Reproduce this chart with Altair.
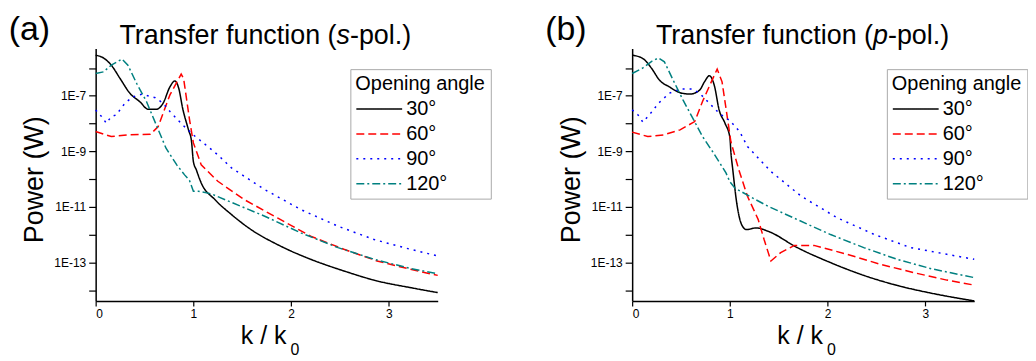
import altair as alt
import pandas as pd

FONT = "Liberation Sans"
ANGLES = ["30°", "60°", "90°", "120°"]
COLORS = ["#000000", "#ff0000", "#0000ff", "#008080"]
DASHES = [[1, 0], [8, 4], [2, 5], [8, 3, 2, 3]]

# ---- panel (a): s-pol.  k/k0 and log10(power / W) ----
A30_K = [0, 0.08, 0.16, 0.25, 0.35, 0.45, 0.54, 0.62, 0.69, 0.76, 0.81, 0.85, 0.89, 0.95, 0.98, 1.0, 1.03, 1.08, 1.22, 1.39, 1.59, 1.86, 2.20, 2.54, 2.88, 3.22, 3.50]
A30_L = [-5.54, -5.64, -5.90, -6.38, -6.91, -7.21, -7.49, -7.49, -7.27, -6.68, -6.47, -6.73, -7.45, -8.23, -8.62, -9.37, -9.67, -10.14, -10.74, -11.28, -11.82, -12.36, -12.89, -13.31, -13.67, -13.91, -14.09]
A60_K = [0, 0.16, 0.32, 0.56, 0.64, 0.76, 0.875, 0.90, 0.96, 1.0, 1.05, 1.08, 1.25, 1.52, 1.86, 2.20, 2.54, 2.88, 3.22, 3.50]
A60_L = [-8.29, -8.47, -8.41, -8.39, -8.11, -6.97, -6.22, -6.38, -7.85, -8.70, -9.19, -9.49, -10.08, -10.74, -11.40, -12.06, -12.53, -12.95, -13.25, -13.47]
A90_K = [0, 0.06, 0.11, 0.16, 0.21, 0.30, 0.38, 0.47, 0.61, 0.69, 0.76, 0.89, 1.0, 1.12, 1.25, 1.39, 1.73, 2.10, 2.48, 2.85, 3.22, 3.50]
A90_L = [-7.51, -7.75, -7.99, -7.75, -7.69, -7.27, -7.04, -6.95, -7.07, -7.27, -7.57, -8.05, -8.41, -8.75, -9.13, -9.60, -10.38, -11.10, -11.70, -12.18, -12.53, -12.77]
A120_K = [0, 0.08, 0.16, 0.27, 0.33, 0.42, 0.52, 0.62, 0.72, 0.83, 0.91, 0.96, 1.0, 1.05, 1.18, 1.39, 1.73, 2.10, 2.48, 2.85, 3.22, 3.50]
A120_L = [-6.20, -6.14, -5.90, -5.68, -5.90, -6.56, -7.21, -8.05, -8.89, -9.49, -9.85, -10.05, -10.44, -10.44, -10.53, -10.84, -11.34, -11.94, -12.47, -12.89, -13.22, -13.41]

# ---- panel (b): p-pol. ----
B30_K = [0, 0.11, 0.20, 0.28, 0.38, 0.49, 0.59, 0.69, 0.74, 0.79, 0.84, 0.89, 0.95, 1.0, 1.01, 1.03, 1.07, 1.12, 1.17, 1.27, 1.39, 1.69, 2.03, 2.37, 2.71, 3.06, 3.50]
B30_L = [-5.54, -5.66, -6.02, -6.44, -6.68, -6.89, -6.94, -6.80, -6.50, -6.28, -6.62, -7.51, -7.99, -8.50, -9.01, -9.67, -10.86, -11.64, -11.82, -11.76, -11.88, -12.47, -13.01, -13.47, -13.83, -14.11, -14.39]
B60_K = [0, 0.16, 0.32, 0.49, 0.64, 0.72, 0.81, 0.87, 0.92, 0.96, 1.01, 1.09, 1.18, 1.29, 1.35, 1.42, 1.52, 1.66, 1.86, 2.20, 2.54, 2.88, 3.22, 3.50]
B60_L = [-8.31, -8.47, -8.41, -8.23, -7.93, -7.21, -6.50, -6.04, -6.50, -7.45, -8.65, -9.65, -10.62, -11.46, -12.18, -12.95, -12.65, -12.39, -12.39, -12.71, -13.07, -13.37, -13.64, -13.82]
B90_K = [0, 0.06, 0.11, 0.18, 0.27, 0.38, 0.49, 0.62, 0.69, 0.79, 0.89, 1.0, 1.10, 1.18, 1.42, 1.73, 2.10, 2.48, 2.85, 3.22, 3.50]
B90_L = [-7.51, -7.69, -7.95, -7.67, -7.27, -6.91, -6.76, -6.76, -6.91, -7.27, -7.63, -7.90, -8.29, -8.83, -9.73, -10.62, -11.40, -12.00, -12.47, -12.71, -12.89]
B120_K = [0, 0.11, 0.20, 0.27, 0.33, 0.42, 0.52, 0.62, 0.72, 0.83, 0.96, 1.0, 1.05, 1.20, 1.39, 1.69, 2.03, 2.37, 2.71, 3.06, 3.50]
B120_L = [-6.20, -6.00, -5.76, -5.64, -5.78, -6.44, -7.15, -7.81, -8.47, -9.05, -9.78, -10.10, -10.32, -10.62, -10.98, -11.46, -12.00, -12.47, -12.89, -13.23, -13.55]

PANEL_LABELS = ["(a)", "(b)"]
TITLE_HEAD = "Transfer function ("
TITLE_ITALIC = ["s", "p"]
TITLE_TAIL = "-pol.)"
Y_TITLE = "Power (W)"
X_TITLE = "k / k"
X_SUB = "0"
LEGEND_TITLE = "Opening angle"

W, H = 343.4, 253.4
YMIN, YMAX = 10 ** -14.39, 10 ** -5.30


def frame(series):
    rows = []
    for ang, ks, ls in series:
        for k, l in zip(ks, ls):
            rows.append({"k": k, "power": 10 ** l, "angle": ang})
    return pd.DataFrame(rows)


def text(t, x, y, size, align="left", style="normal", angle=0):
    return alt.Chart(pd.DataFrame({"t": [t]})).mark_text(
        align=align, baseline="alphabetic", font=FONT, fontSize=size,
        fontStyle=style, angle=angle, color="black"
    ).encode(x=alt.value(x), y=alt.value(y), text="t:N")


def panel(df, label, ital, ital_w):
    legend = alt.Legend(
        title=LEGEND_TITLE, orient="none", legendX=255.7, legendY=20.7,
        symbolType="stroke", symbolSize=2116, symbolStrokeWidth=1.5,
        clipHeight=20,
        titleFont=FONT, titleFontSize=20, titleFontWeight="normal", titleColor="black",
        titlePadding=5, labelFont=FONT, labelFontSize=20, labelColor="black",
        labelOffset=3, rowPadding=5, padding=5, strokeColor="#aaaaaa",
        fillColor="white", cornerRadius=0,
    )
    enc = dict(
        x=alt.X("k:Q", scale=alt.Scale(domain=[0, 3.5], nice=False, zero=False),
                axis=alt.Axis(values=[0, 1, 2, 3], format="d", title=None, grid=False,
                              tickSize=5, labelPadding=3)),
        y=alt.Y("power:Q", scale=alt.Scale(type="log", domain=[YMIN, YMAX], nice=False),
                axis=alt.Axis(values=[10.0 ** e for e in range(-14, -5)], title=None, grid=False,
                              tickSize=7, labelPadding=3, labelOverlap=False, labelFlush=False,
                              labelExpr="(round(log(datum.value)/LN10) % 2 == 0) ? '' : '1E' + round(log(datum.value)/LN10)")),
        color=alt.Color("angle:N", scale=alt.Scale(domain=ANGLES, range=COLORS), legend=legend),
        strokeDash=alt.StrokeDash("angle:N", scale=alt.Scale(domain=ANGLES, range=DASHES), legend=legend),
        order="k:Q",
    )
    base = alt.Chart(df)
    solid = base.transform_filter(alt.datum.angle == "30°").mark_line(
        interpolate="monotone", strokeWidth=1.5).encode(**enc)
    others = base.transform_filter(alt.datum.angle != "30°").mark_line(
        strokeWidth=1.5).encode(**enc)
    x0 = 241.8
    layers = [
        solid, others,
        text(label, -87.3, -9.0, 34),
        text(TITLE_HEAD, x0, -5, 27, align="right"),
        text(ital, x0, -5, 27, style="italic"),
        text(TITLE_TAIL, x0 + ital_w, -5, 27),
        text(Y_TITLE, -52.6, 131.7, 27, align="center", angle=270),
        text(X_TITLE, 145.7, 296.7, 25),
        text(X_SUB, 195.5, 307.7, 16),
    ]
    return alt.layer(*layers).properties(width=W, height=H)


dfa = frame([("30°", A30_K, A30_L), ("60°", A60_K, A60_L), ("90°", A90_K, A90_L), ("120°", A120_K, A120_L)])
dfb = frame([("30°", B30_K, B30_L), ("60°", B60_K, B60_L), ("90°", B90_K, B90_L), ("120°", B120_K, B120_L)])

chart = alt.hconcat(
    panel(dfa, PANEL_LABELS[0], TITLE_ITALIC[0], 13.5),
    panel(dfb, PANEL_LABELS[1], TITLE_ITALIC[1], 15.0),
    spacing=194.6, bounds="flush",
).resolve_scale(color="independent", strokeDash="independent").resolve_legend(
    color="independent", strokeDash="independent"
).properties(
    padding={"left": 0, "top": 4, "right": 0, "bottom": 0}
).configure_view(stroke=None).configure_axis(
    labelFont=FONT, labelFontSize=12, labelColor="black",
    domainColor="black", domainWidth=1.5, tickColor="black", tickWidth=1.2,
)

chart.save("out.html", embed_options={"renderer": "svg", "actions": False})
